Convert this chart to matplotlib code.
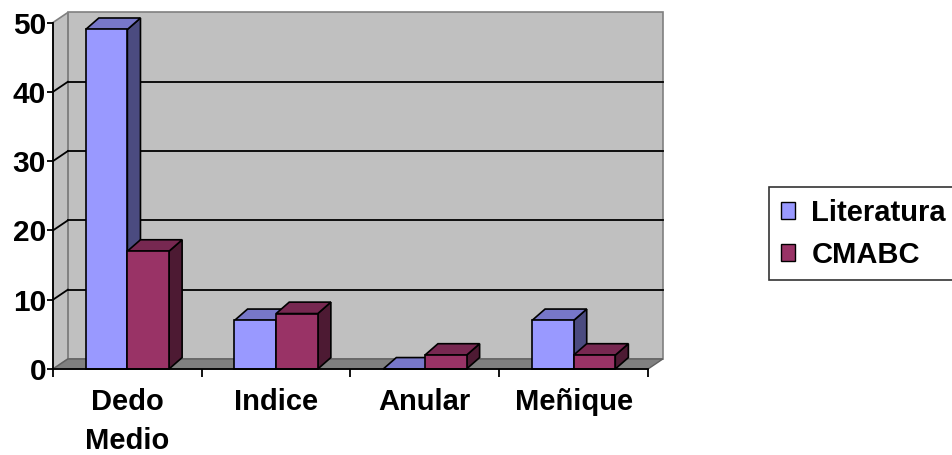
import numpy as np
import matplotlib.pyplot as plt
from matplotlib.patches import Polygon, Patch

categorias = ['Dedo\nMedio', 'Indice', 'Anular', 'Meñique']
literatura = [49, 7, 0, 7]
cmabc = [17, 8, 2, 2]
series = ['Literatura', 'CMABC']

# front / top / side shades for each series
colores = {
    'Literatura': ('#9999FF', '#7777C9', '#4B4B80'),
    'CMABC': ('#993366', '#772851', '#4D1A33'),
}

plt.rcParams['font.family'] = ['Liberation Sans', 'DejaVu Sans']
plt.rcParams['font.weight'] = 'bold'

fig = plt.figure(figsize=(9.53, 4.55), dpi=100)
ax = fig.add_axes([53 / 953, 1 - 369 / 455, 595 / 953, 346.5 / 455])

n = len(categorias)
x0, x1 = -0.5, n - 0.5
y0, y1 = 0, 50
ax.set_xlim(x0, x1)
ax.set_ylim(y0, y1)

# depth of the walls and of the bars, in data units
dxw, dyw = 0.10, 1.45
dxb, dyb = 0.088, 1.65
ancho = 0.28

pared = '#C0C0C0'
borde = '#808080'

# back wall, left wall and floor
ax.add_patch(Polygon([(x0 + dxw, y0 + dyw), (x1 + dxw, y0 + dyw),
                      (x1 + dxw, y1 + dyw), (x0 + dxw, y1 + dyw)],
                     closed=True, fc=pared, ec=borde, lw=1.2, clip_on=False, zorder=1))
ax.add_patch(Polygon([(x0, y0), (x0 + dxw, y0 + dyw),
                      (x0 + dxw, y1 + dyw), (x0, y1)],
                     closed=True, fc=pared, ec=borde, lw=1.2, clip_on=False, zorder=1))
ax.add_patch(Polygon([(x0, y0), (x1, y0), (x1 + dxw, y0 + dyw), (x0 + dxw, y0 + dyw)],
                     closed=True, fc='#808080', ec='#606060', lw=1.0, clip_on=False, zorder=1))

# gridlines on the back and left walls
for v in range(10, 50, 10):
    ax.plot([x0 + dxw, x1 + dxw], [v + dyw, v + dyw], color='black', lw=1.3,
            clip_on=False, zorder=2)
    ax.plot([x0, x0 + dxw], [v, v + dyw], color='black', lw=1.3,
            clip_on=False, zorder=2)


def barra(xl, h, nombre):
    frente, arriba, lado = colores[nombre]
    xr = xl + ancho
    kw = dict(closed=True, ec='black', lw=1.2, clip_on=False, zorder=3,
              joinstyle='miter')
    ax.add_patch(Polygon([(xr, 0), (xr + dxb, dyb), (xr + dxb, h + dyb), (xr, h)],
                         fc=lado, **kw))
    ax.add_patch(Polygon([(xl, h), (xr, h), (xr + dxb, h + dyb), (xl + dxb, h + dyb)],
                         fc=arriba, **kw))
    ax.add_patch(Polygon([(xl, 0), (xr, 0), (xr, h), (xl, h)], fc=frente, **kw))


for i in range(n):
    barra(i - ancho, literatura[i], 'Literatura')
    barra(i, cmabc[i], 'CMABC')

# axes
for s in ['top', 'right']:
    ax.spines[s].set_visible(False)
ax.spines['left'].set_linewidth(1.3)
ax.spines['bottom'].set_linewidth(1.3)
ax.spines['left'].set_zorder(4)
ax.spines['bottom'].set_zorder(4)
ax.patch.set_visible(False)

ax.set_yticks(np.arange(0, 51, 10))
ax.tick_params(axis='y', length=4, width=1.3, labelsize=21.5, pad=1)
ax.set_xticks(np.arange(-0.5, n, 1.0))
ax.set_xticklabels([])
ax.tick_params(axis='x', which='major', length=6, width=1.3)
ax.set_xticks(np.arange(n), minor=True)
ax.set_xticklabels(categorias, minor=True, fontsize=21, linespacing=1.5)
ax.tick_params(axis='x', which='minor', length=0, pad=14)
for t in ax.get_xticklabels(minor=True):
    t.set_verticalalignment('top')

manijas = [Patch(fc=colores[s][0], ec='black', lw=1.0) for s in series]
leg = fig.legend(manijas, series, loc='upper left',
                 bbox_to_anchor=(769 / 953, 1 - 187 / 455),
                 fontsize=21, frameon=True, fancybox=False,
                 handlelength=0.5, handleheight=0.5, handletextpad=0.55,
                 labelspacing=0.48, borderpad=0.4, borderaxespad=0.0)
leg.get_frame().set_edgecolor('black')
leg.get_frame().set_linewidth(1.2)

fig.savefig('out.png', dpi=100, facecolor='white')
